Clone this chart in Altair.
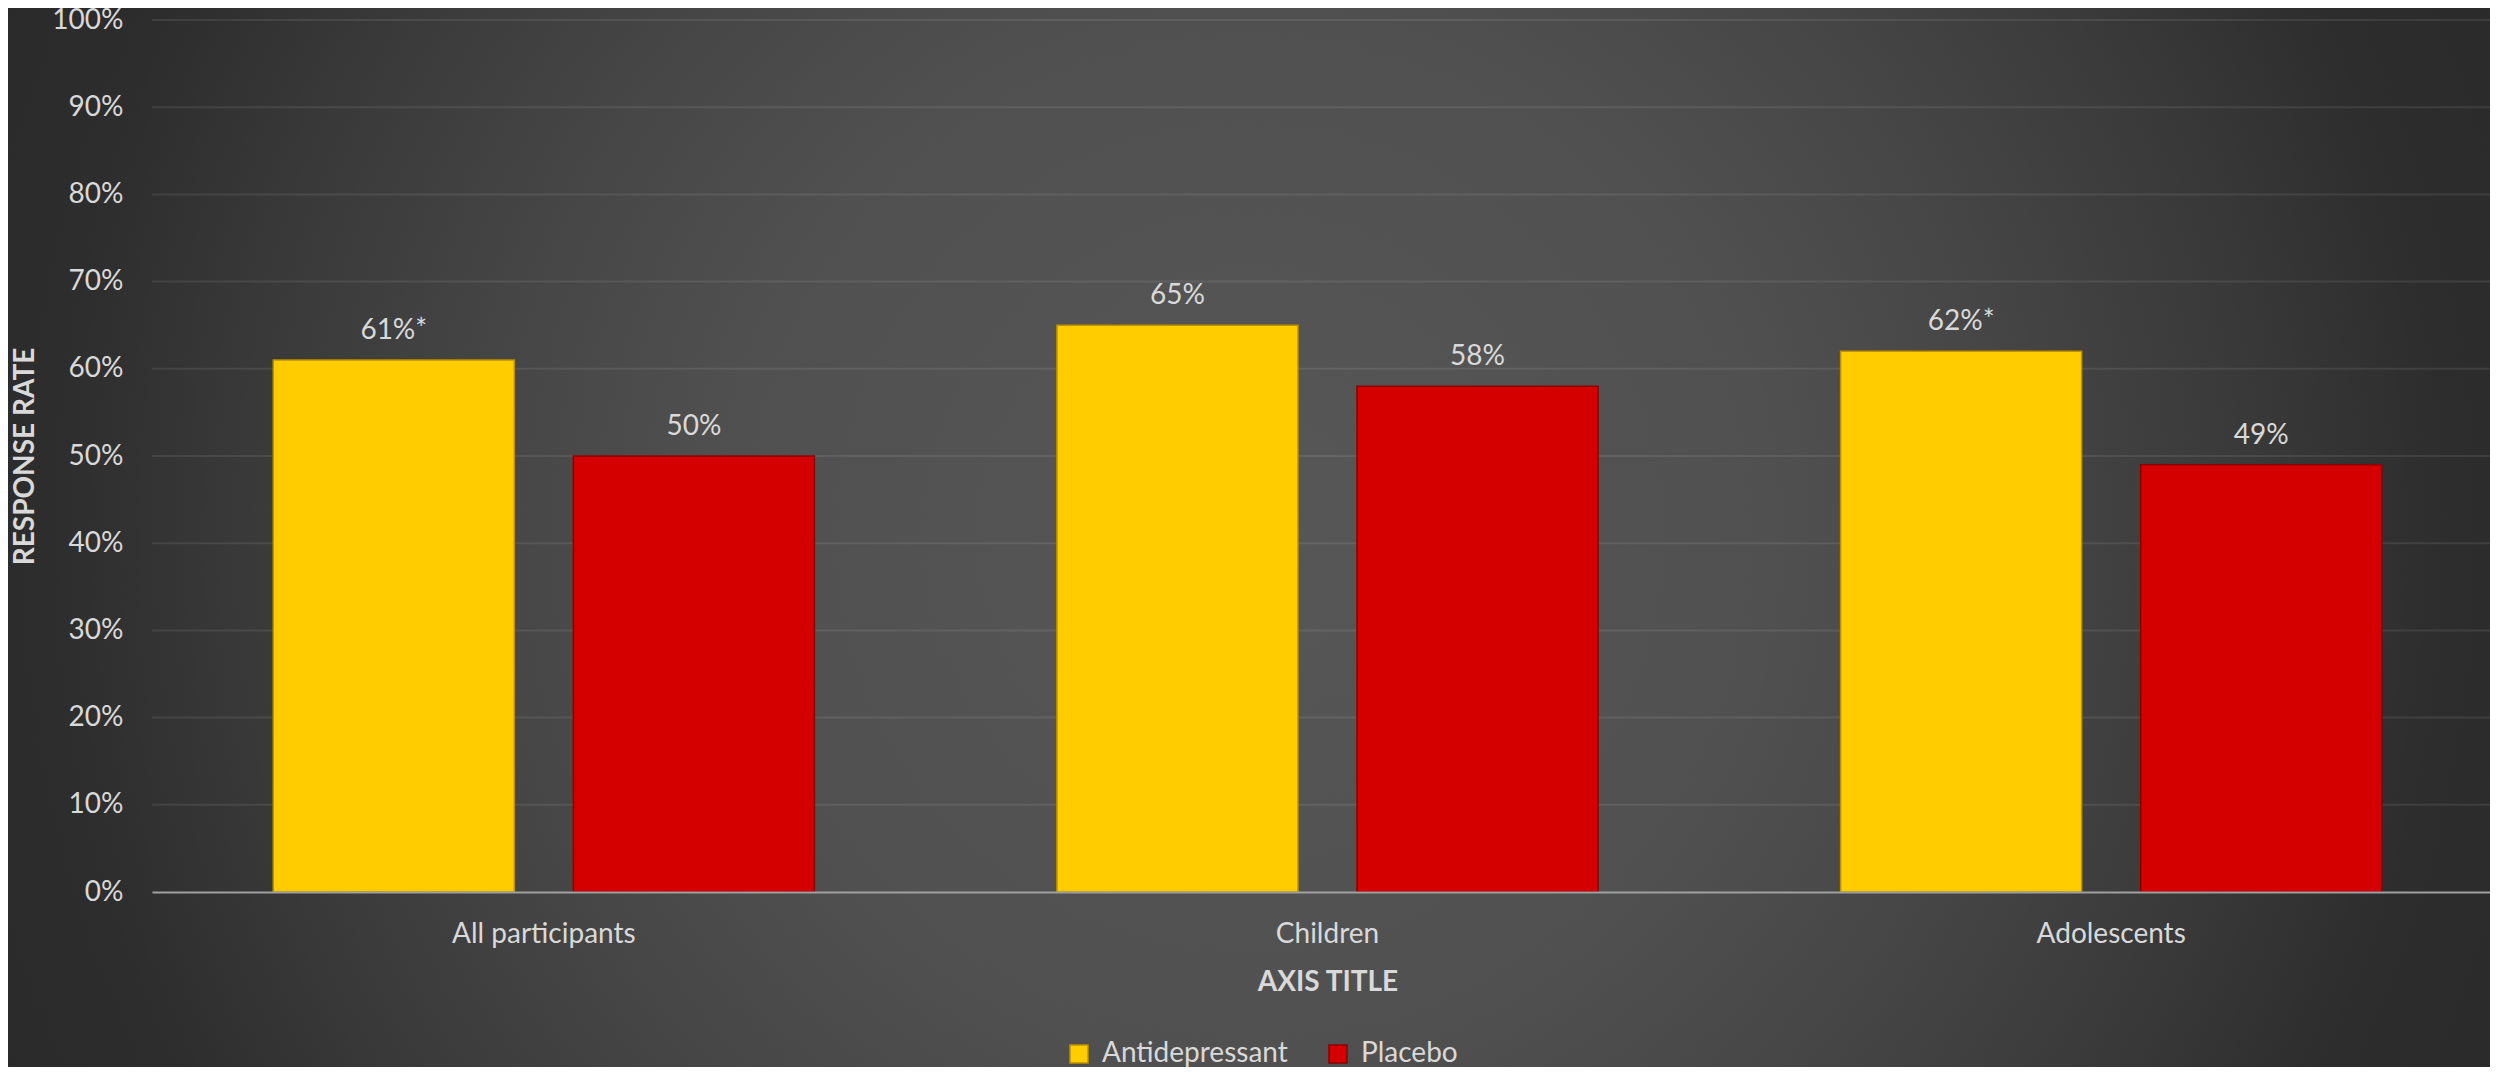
import altair as alt
import pandas as pd

# ---- data ----
categories = ["All participants", "Children", "Adolescents"]
series = ["Antidepressant", "Placebo"]
antidepressant = [0.61, 0.65, 0.62]
placebo = [0.50, 0.58, 0.49]
antidepressant_labels = ["61%*", "65%", "62%*"]
placebo_labels = ["50%", "58%", "49%"]
y_ticks = [0.0, 0.1, 0.2, 0.3, 0.4, 0.5, 0.6, 0.7, 0.8, 0.9, 1.0]

fill_colors = ["#FFCC00", "#D40000"]
stroke_colors = ["#BF9000", "#8B0000"]
text_color = "#D9D9D9"
FONT = "Lato"

rows = []
for i, c in enumerate(categories):
    rows.append({"Category": c, "Series": series[0], "Rate": antidepressant[i], "Label": antidepressant_labels[i]})
    rows.append({"Category": c, "Series": series[1], "Rate": placebo[i], "Label": placebo_labels[i]})
df = pd.DataFrame(rows)
grid_df = pd.DataFrame({"Rate": y_ticks[1:]})

W, H = 2338, 872

x_enc = alt.X(
    "Category:N",
    sort=categories,
    scale=alt.Scale(range=[0, 2351], paddingInner=0.3095, paddingOuter=0.15475),
    axis=alt.Axis(
        title="AXIS TITLE",
        labelAngle=0,
        labelLimit=600,
        ticks=False,
        domainColor="#A0A0A0",
        domainWidth=2,
        labelPadding=28,
        titleX=1175.5,
        titleY=98,
        titleBaseline="alphabetic",
        titleAlign="center",
        zindex=1,
    ),
)
xoff_enc = alt.XOffset(
    "Series:N", sort=series, scale=alt.Scale(paddingInner=0.1967, paddingOuter=0)
)
y_axis = alt.Axis(
    format=".0%",
    values=y_ticks,
    title="RESPONSE RATE",
    domain=False,
    ticks=False,
    grid=False,
    labelPadding=29,
    titleX=-126.5,
    titleY=436,
    titleAngle=270,
    titleBaseline="middle",
    titleAlign="center",
    zindex=1,
)
y_scale = alt.Scale(domain=[0, 1], nice=False)
y_enc = alt.Y("Rate:Q", scale=y_scale, axis=y_axis)

legend_kw = dict(
    title=None,
    orient="none",
    legendX=913,
    legendY=1020,
    direction="horizontal",
    symbolType="square",
    symbolSize=324,
    symbolStrokeWidth=1.5,
    labelFontSize=28,
    labelColor=text_color,
    labelFont=FONT,
    labelOffset=9,
    labelLimit=500,
    columnPadding=36,
    padding=0,
)

bg = alt.Chart(alt.Data(values=[{"k": 1}])).mark_rect(
    color=alt.Gradient(
        gradient="radial",
        stops=[
            alt.GradientStop(color="#575757", offset=0),
            alt.GradientStop(color="#505050", offset=0.38),
            alt.GradientStop(color="#464646", offset=0.55),
            alt.GradientStop(color="#393939", offset=0.73),
            alt.GradientStop(color="#2D2D2D", offset=0.87),
            alt.GradientStop(color="#2A2A2A", offset=1),
        ],
        x1=0.5, y1=0.5, r1=0, x2=0.5, y2=0.5, r2=0.53,
    )
).encode(
    x=alt.value(-203.5), x2=alt.value(2396.5), y=alt.value(-783), y2=alt.value(1817)
)

grid = alt.Chart(grid_df).mark_rule(color="#FFFFFF", opacity=0.085, strokeWidth=2).encode(
    y=y_enc
)

bars = alt.Chart(df).mark_bar(strokeWidth=1.5).encode(
    x=x_enc,
    xOffset=xoff_enc,
    y=y_enc,
    color=alt.Color("Series:N", sort=series,
                    scale=alt.Scale(domain=series, range=fill_colors),
                    legend=alt.Legend(**legend_kw)),
    stroke=alt.Stroke("Series:N", sort=series,
                      scale=alt.Scale(domain=series, range=stroke_colors),
                      legend=alt.Legend(**legend_kw)),
)

labels = alt.Chart(df).mark_text(
    baseline="alphabetic", align="center", dy=-21, fontSize=28, font=FONT, color=text_color
).encode(
    x=x_enc,
    xOffset=xoff_enc,
    y=y_enc,
    text="Label:N",
)

chart = alt.layer(bg, grid, bars, labels).properties(
    width=W,
    height=H,
    autosize=alt.AutoSizeParams(type="none"),
    padding={"left": 144, "top": 12, "right": 0, "bottom": 175},
).configure(
    background="#2A2A2A",
).configure_view(
    stroke=None,
).configure_axis(
    labelFont=FONT,
    labelFontSize=28,
    labelColor=text_color,
    titleFont=FONT,
    titleFontSize=28,
    titleFontWeight="bold",
    titleColor=text_color,
)

chart.save("out.html", embed_options={"renderer": "svg", "actions": False})
